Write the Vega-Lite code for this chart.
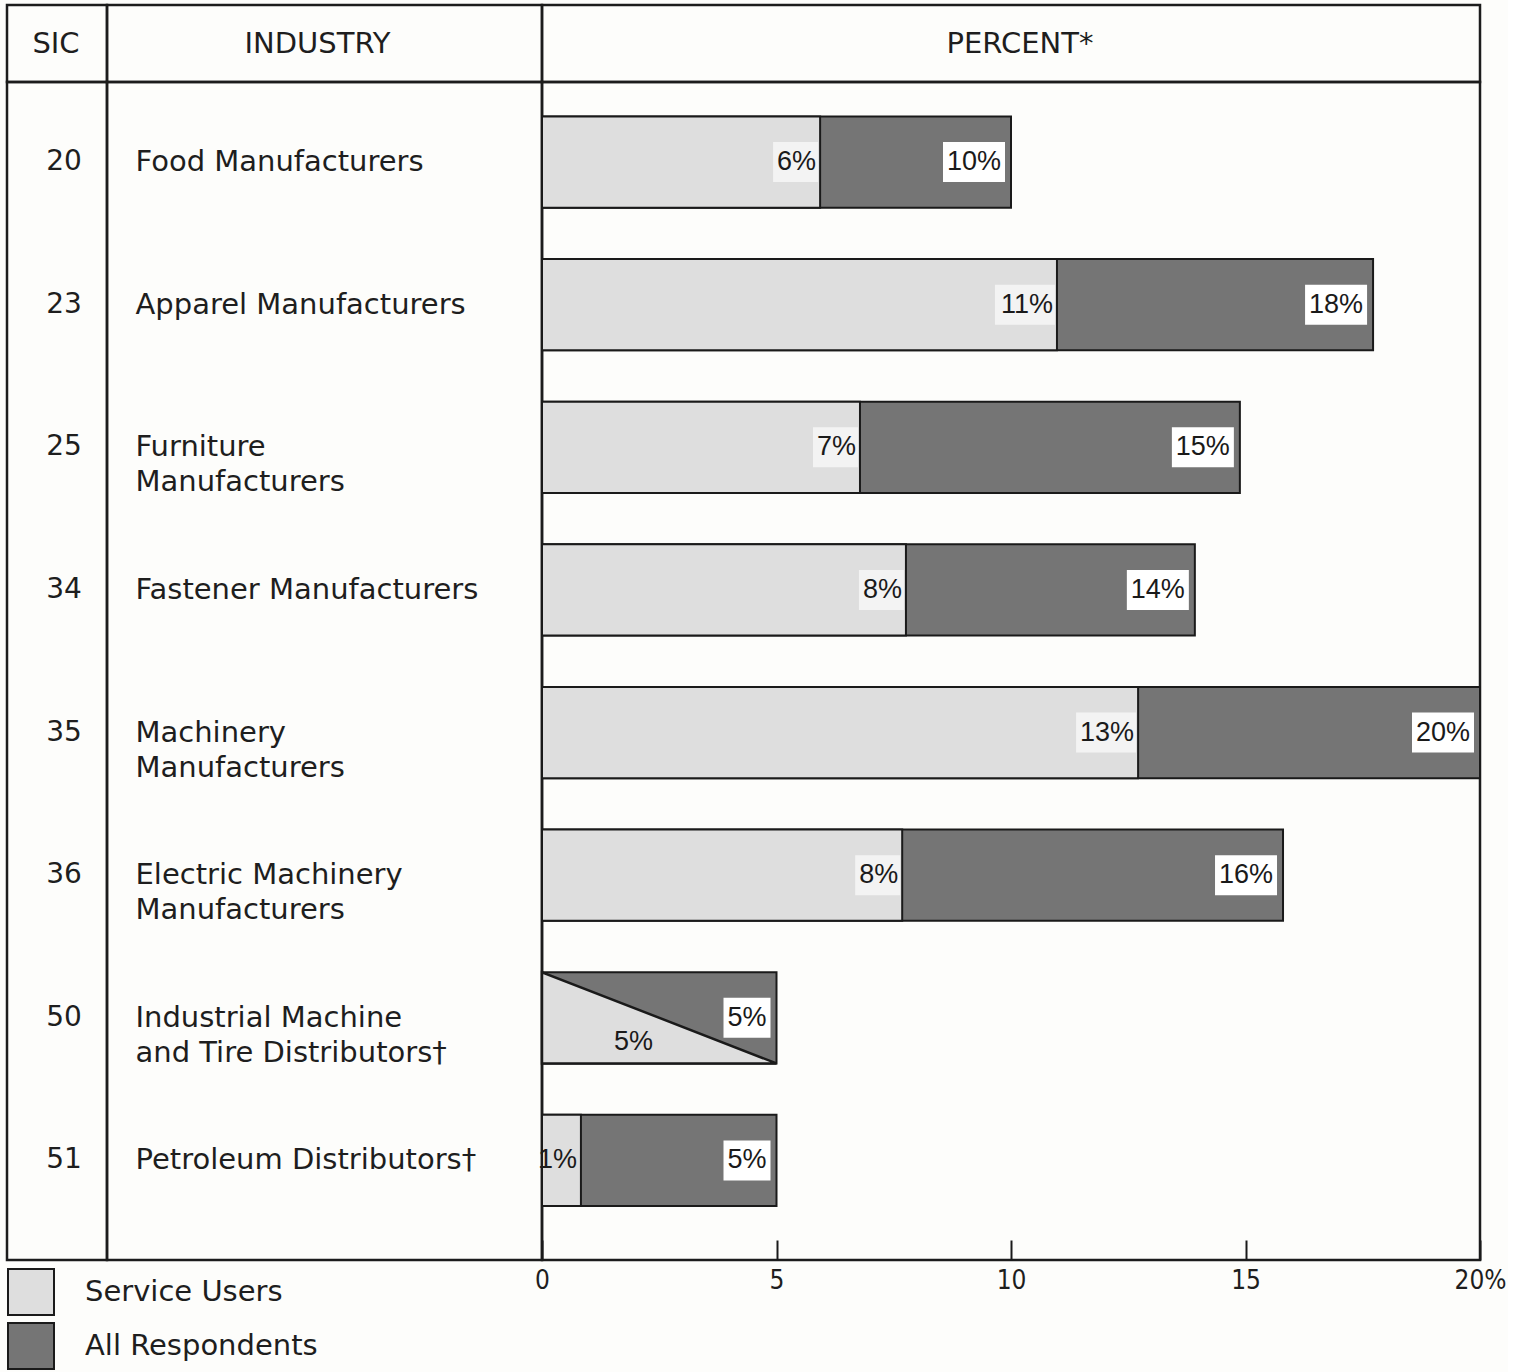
{
  "$schema": "https://vega.github.io/schema/vega-lite/v6.json",
  "background": "#fdfdfb",
  "padding": {"left": 5, "top": 3, "right": 0, "bottom": 0},
  "bounds": "flush",
  "spacing": 0,
  "columns": 3,
  "resolve": {"scale": {"color": "shared"}, "legend": {"color": "shared"}},
  "config": {
    "font": "DejaVu Sans",
    "view": {"stroke": "#1c1c1c", "strokeWidth": 2.5}
  },
  "datasets": {
    "rows": [
      {"sic": "20", "industry": "Food Manufacturers", "all": 10.0, "allLabel": "10%", "svc": 5.93, "svcLabel": "6%"},
      {"sic": "23", "industry": "Apparel Manufacturers", "all": 17.72, "allLabel": "18%", "svc": 10.98, "svcLabel": "11%"},
      {"sic": "25", "industry": "Furniture\n\u2002Manufacturers", "all": 14.88, "allLabel": "15%", "svc": 6.78, "svcLabel": "7%"},
      {"sic": "34", "industry": "Fastener Manufacturers", "all": 13.92, "allLabel": "14%", "svc": 7.76, "svcLabel": "8%"},
      {"sic": "35", "industry": "Machinery\n\u2002Manufacturers", "all": 20.0, "allLabel": "20%", "svc": 12.71, "svcLabel": "13%"},
      {"sic": "36", "industry": "Electric Machinery\n\u2002Manufacturers", "all": 15.8, "allLabel": "16%", "svc": 7.68, "svcLabel": "8%"},
      {"sic": "50", "industry": "Industrial Machine\n\u2002and Tire Distributors\u2020", "all": 5.0, "allLabel": "5%", "svc": 5.0, "svcLabel": "5%"},
      {"sic": "51", "industry": "Petroleum Distributors\u2020", "all": 5.0, "allLabel": "5%", "svc": 0.83, "svcLabel": "1%"}
    ]
  },
  "concat": [
    {
      "width": 100, "height": 77,
      "data": {"values": [{"h": "SIC"}]},
      "mark": {"type": "text", "fontSize": 29, "color": "#1e1e1e", "dx": -1},
      "encoding": {
        "x": {"field": "h", "type": "nominal", "axis": null},
        "text": {"field": "h", "type": "nominal"}
      }
    },
    {
      "width": 435, "height": 77,
      "data": {"values": [{"h": "INDUSTRY"}]},
      "mark": {"type": "text", "fontSize": 29, "color": "#1e1e1e", "dx": -7},
      "encoding": {
        "x": {"field": "h", "type": "nominal", "axis": null},
        "text": {"field": "h", "type": "nominal"}
      }
    },
    {
      "width": 938, "height": 77,
      "data": {"values": [{"h": "PERCENT*"}]},
      "mark": {"type": "text", "fontSize": 29, "color": "#1e1e1e", "dx": 9},
      "encoding": {
        "x": {"field": "h", "type": "nominal", "axis": null},
        "text": {"field": "h", "type": "nominal"}
      }
    },
    {
      "width": 100, "height": 1178,
      "data": {"name": "rows"},
      "mark": {"type": "text", "fontSize": 28, "color": "#1e1e1e", "dx": 7},
      "encoding": {
        "y": {"field": "sic", "type": "nominal", "scale": {"type": "band", "paddingInner": 0.36, "paddingOuter": 0.31, "align": 0.39}, "axis": null},
        "text": {"field": "sic", "type": "nominal"}
      }
    },
    {
      "width": 435, "height": 1178,
      "data": {"name": "rows"},
      "mark": {"type": "text", "fontSize": 29, "color": "#1e1e1e", "align": "left", "dx": -189, "lineBreak": "\n", "lineHeight": 35},
      "encoding": {
        "y": {"field": "sic", "type": "nominal", "scale": {"type": "band", "paddingInner": 0.36, "paddingOuter": 0.31, "align": 0.39}, "axis": null},
        "text": {"field": "industry", "type": "nominal"}
      }
    },
    {
      "width": 938, "height": 1178,
      "data": {"name": "rows"},
      "layer": [
        {
          "mark": {"type": "bar", "stroke": "#1a1a1a", "strokeWidth": 2, "opacity": 1},
          "encoding": {
            "y": {"field": "sic", "type": "nominal", "scale": {"type": "band", "paddingInner": 0.36, "paddingOuter": 0.31, "align": 0.39}, "axis": null},
            "x": {
              "field": "all", "type": "quantitative",
              "scale": {"domain": [0, 20], "nice": false},
              "axis": {
                "orient": "bottom", "values": [0, 5, 10, 15, 20],
                "labelExpr": "datum.value == 20 ? '20%' : datum.label",
                "domain": false, "grid": false, "ticks": true,
                "tickSize": -20, "tickWidth": 2, "tickColor": "#1a1a1a",
                "labelFont": "DejaVu Sans Condensed, Liberation Sans Narrow, Liberation Sans", "labelFontSize": 26, "labelColor": "#1e1e1e",
                "labelPadding": 27, "labelFlush": false, "labelOverlap": false, "title": null
              }
            },
            "color": {
              "datum": "All Respondents",
              "scale": {"domain": ["Service Users", "All Respondents"], "range": ["#dedede", "#757575"]},
              "legend": {
                "title": null, "orient": "none", "legendX": 0, "legendY": 1263,
                "direction": "vertical", "padding": 0,
                "symbolType": "square", "symbolSize": 2116, "symbolStrokeColor": "#1a1a1a", "symbolStrokeWidth": 2, "symbolOpacity": 1,
                "labelFont": "DejaVu Sans", "labelFontSize": 29, "labelColor": "#1e1e1e", "labelOffset": 30, "labelLimit": 500, "rowPadding": 0
              }
            }
          }
        },
        {
          "transform": [{"filter": "datum.sic != '50'"}],
          "mark": {"type": "bar", "stroke": "#1a1a1a", "strokeWidth": 2, "opacity": 1},
          "encoding": {
            "y": {"field": "sic", "type": "nominal"},
            "x": {"field": "svc", "type": "quantitative"},
            "color": {"datum": "Service Users"}
          }
        },
        {
          "transform": [{"filter": "datum.sic == '50'"}],
          "mark": {"type": "point", "shape": "M-234.5,-45.6L-234.5,45.6L0,45.6Z", "size": 4, "filled": true, "fill": "#dedede", "opacity": 1, "stroke": "#1a1a1a", "strokeWidth": 2.5, "strokeJoin": "miter"},
          "encoding": {
            "y": {"field": "sic", "type": "nominal"},
            "x": {"field": "svc", "type": "quantitative"}
          }
        },
        {
          "mark": {"type": "point", "size": 4, "filled": true, "fill": "#ffffff", "opacity": 1, "strokeWidth": 0},
          "encoding": {
            "y": {"field": "sic", "type": "nominal"},
            "x": {"field": "all", "type": "quantitative"},
            "shape": {"condition": {"test": "length(datum.allLabel) > 2", "value": "M-68,-20L-6,-20L-6,20L-68,20Z"}, "value": "M-53,-20L-6,-20L-6,20L-53,20Z"}
          }
        },
        {
          "mark": {"type": "text", "align": "right", "dx": -10, "font": "Liberation Sans", "fontSize": 27, "color": "#1a1a1a"},
          "encoding": {
            "y": {"field": "sic", "type": "nominal"},
            "x": {"field": "all", "type": "quantitative"},
            "text": {"field": "allLabel", "type": "nominal"}
          }
        },
        {
          "transform": [{"filter": "datum.sic != '50' && datum.svc > 2"}],
          "mark": {"type": "point", "size": 4, "filled": true, "fill": "#f3f3f3", "opacity": 1, "strokeWidth": 0},
          "encoding": {
            "y": {"field": "sic", "type": "nominal"},
            "x": {"field": "svc", "type": "quantitative"},
            "shape": {"condition": {"test": "length(datum.svcLabel) > 2", "value": "M-62,-20L-2,-20L-2,20L-62,20Z"}, "value": "M-47,-20L-2,-20L-2,20L-47,20Z"}
          }
        },
        {
          "transform": [{"filter": "datum.sic != '50'"}],
          "mark": {"type": "text", "align": "right", "dx": -4, "font": "Liberation Sans", "fontSize": 27, "color": "#1a1a1a"},
          "encoding": {
            "y": {"field": "sic", "type": "nominal"},
            "x": {"field": "svc", "type": "quantitative"},
            "text": {"field": "svcLabel", "type": "nominal"}
          }
        },
        {
          "transform": [{"filter": "datum.sic == '50'"}],
          "mark": {"type": "text", "align": "center", "dx": -143, "dy": 24, "font": "Liberation Sans", "fontSize": 27, "color": "#1a1a1a"},
          "encoding": {
            "y": {"field": "sic", "type": "nominal"},
            "x": {"field": "svc", "type": "quantitative"},
            "text": {"field": "svcLabel", "type": "nominal"}
          }
        }
      ]
    }
  ]
}
